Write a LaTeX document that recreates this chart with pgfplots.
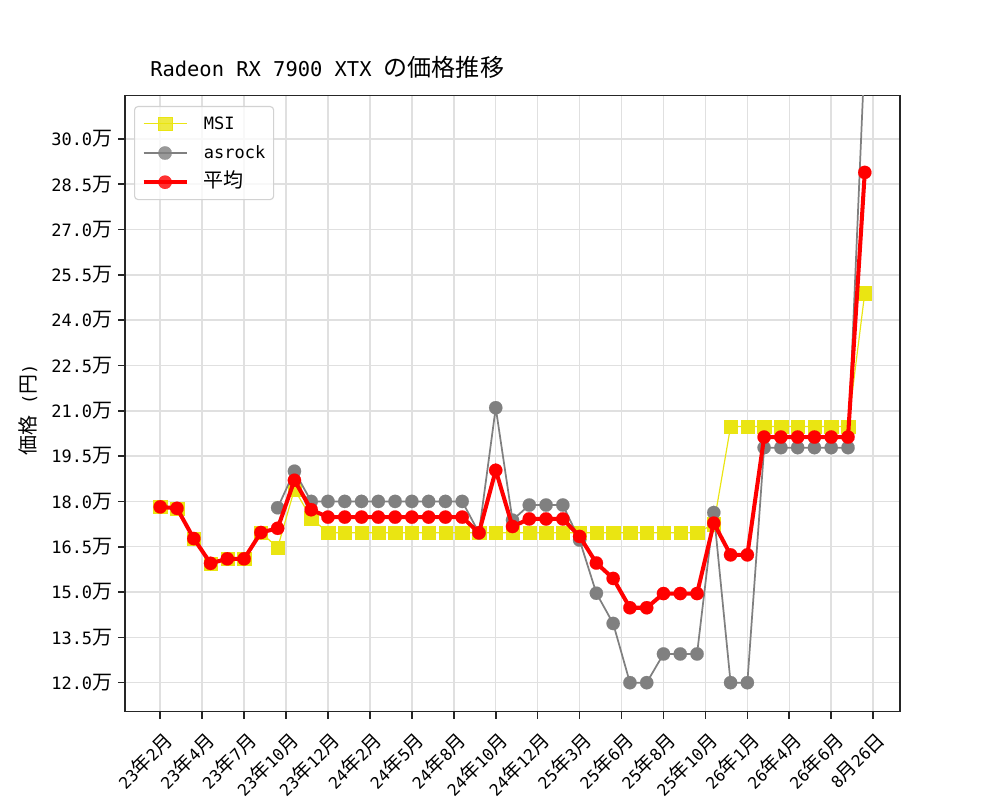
\documentclass[border=0pt]{standalone}
\usepackage{fontspec}
\setmainfont{Noto Sans CJK JP}
\newfontfamily\mono{DejaVu Sans Mono}[Scale=0.85]
\usepackage{pgfplots}
\pgfplotsset{compat=1.18}

\definecolor{msiY}{RGB}{234,229,18}
\definecolor{gridG}{RGB}{224,224,224}
\definecolor{legE}{RGB}{210,210,210}
\definecolor{asG}{RGB}{128,128,128}

\newcommand\ym[2]{{\mono #1}年{\mono #2}月}
\newcommand\man[1]{{\mono #1}万}

\begin{document}
\begin{tikzpicture}
\useasboundingbox (0,0) rectangle (720bp,576bp);
\begin{axis}[
  at={(90bp,63.6bp)}, anchor=south west,
  scale only axis, width=558bp, height=443.5bp,
  xmin=-2.1, xmax=44.1, ymin=110400, ymax=314300,
  clip marker paths=true,
  scaled y ticks=false,
  xtick={0,2.5,...,42.5},
  xticklabels={\ym{23}{2},\ym{23}{4},\ym{23}{7},\ym{23}{10},\ym{23}{12},
    \ym{24}{2},\ym{24}{5},\ym{24}{8},\ym{24}{10},\ym{24}{12},
    \ym{25}{3},\ym{25}{6},\ym{25}{8},\ym{25}{10},
    \ym{26}{1},\ym{26}{4},\ym{26}{6},{{\mono 8}月{\mono 26}日}},
  ytick={120000,135000,...,300000},
  yticklabels={\man{12.0},\man{13.5},\man{15.0},\man{16.5},\man{18.0},\man{19.5},
    \man{21.0},\man{22.5},\man{24.0},\man{25.5},\man{27.0},\man{28.5},\man{30.0}},
  tick label style={font=\fontsize{14.4bp}{17bp}\selectfont, black},
  xticklabel style={xshift=1.5bp, yshift=-8.5bp, rotate=45, anchor=north east, inner sep=0pt,
    font=\fontsize{13.8bp}{16bp}\selectfont},
  yticklabel style={anchor=east, inner sep=0pt, xshift=-4bp},
  grid=major,
  major grid style={gridG, line width=1.1bp},
  axis line style={line width=1.15bp, black!85},
  tick style={line width=1.15bp, black!85},
  major tick length=5bp,
  tick align=outside,
  xtick pos=bottom, ytick pos=left,
  title={{\mono Radeon RX 7900 XTX }の価格推移},
  title style={at={(0,1)}, anchor=base west, xshift=18bp, yshift=7.7bp,
    inner sep=0pt, font=\fontsize{17.3bp}{20bp}\selectfont},
  ylabel={価格{\mono\ (}円{\mono )}},
  every axis y label/.style={at={(axis description cs:0,0.49)}, xshift=-70bp,
    rotate=90, anchor=center, font=\fontsize{14.4bp}{17bp}\selectfont},
  legend cell align=left,
  legend image code/.code={
    \draw[mark repeat=2,mark phase=2,#1] plot coordinates {(0bp,0bp) (15.5bp,0bp) (31bp,0bp)};
  },
  legend style={at={(0,1)}, anchor=north west, xshift=6.5bp, yshift=-7.4bp,
    draw=legE, line width=0.8bp, rounded corners=2.5bp,
    fill=white, fill opacity=0.8, text opacity=1,
    font=\fontsize{14.4bp}{17bp}\selectfont,
    inner xsep=5bp, inner ysep=4.5bp, row sep=5bp,
    nodes={inner sep=1bp, text height=11bp, text depth=3bp},
    /tikz/every odd column/.append style={column sep=10bp}},
  legend entries={{\mono MSI},{\mono asrock},平均},
]
\addplot[msiY, line width=0.85bp, mark=square*, mark size=4.8bp,
  mark options={fill=msiY, draw=msiY, line width=0.1bp}] coordinates {
  (0,178200)(1,177700)(2,167700)(3,159500)(4,161000)(5,161000)(6,169700)
  (7,164700)(8,184000)(9,174500)(10,169600)(11,169600)(12,169600)(13,169600)
  (14,169600)(15,169600)(16,169600)(17,169600)(18,169600)(19,169600)(20,169600)
  (21,169600)(22,169600)(23,169600)(24,169600)(25,169600)(26,169600)(27,169600)
  (28,169600)(29,169600)(30,169600)(31,169600)(32,169600)(33,172500)(34,204800)
  (35,204800)(36,204800)(37,204800)(38,204800)(39,204800)(40,204800)(41,204800)
  (42,249000)};
\addplot[asG, line width=1.25bp, mark=*, mark size=4.8bp,
  mark options={fill=asG, draw=asG, line width=0.1bp}] coordinates {
  (7,177900)(8,190000)(9,180000)(10,180000)(11,180000)(12,180000)(13,180000)
  (14,180000)(15,180000)(16,180000)(17,180000)(18,180000)(19,169600)(20,211000)
  (21,173800)(22,178800)(23,178800)(24,178800)(25,167200)(26,149600)(27,139600)
  (28,120000)(29,120000)(30,129500)(31,129500)(32,129500)(33,176300)(34,120000)
  (35,120000)(36,197800)(37,197800)(38,197800)(39,197800)(40,197800)(41,197800)
  (42,328900)};
\addplot[red, line width=2.9bp, mark=*, mark size=4.8bp,
  mark options={fill=red, draw=red, line width=0.1bp}] coordinates {
  (0,178200)(1,177700)(2,167700)(3,159500)(4,161000)(5,161000)(6,169700)
  (7,171100)(8,187000)(9,177250)(10,174800)(11,174800)(12,174800)(13,174800)
  (14,174800)(15,174800)(16,174800)(17,174800)(18,174800)(19,169600)(20,190300)
  (21,171700)(22,174200)(23,174200)(24,174200)(25,168400)(26,159600)(27,154500)
  (28,144800)(29,144800)(30,149500)(31,149500)(32,149500)(33,172800)(34,162300)
  (35,162300)(36,201300)(37,201300)(38,201300)(39,201300)(40,201300)(41,201300)
  (42,288900)};
\end{axis}
\end{tikzpicture}
\end{document}
